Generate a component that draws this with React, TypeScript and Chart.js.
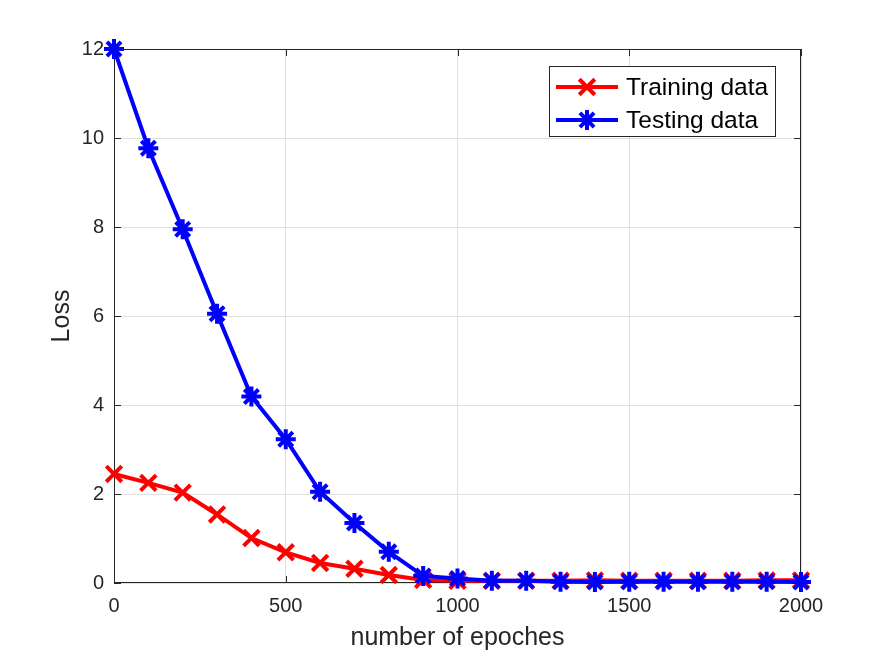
import React, { useEffect, useRef } from 'react';
import { Chart, registerables } from 'chart.js';

Chart.register(...registerables);

const epochs = [0, 100, 200, 300, 400, 500, 600, 700, 800, 900, 1000, 1100, 1200, 1300, 1400, 1500, 1600, 1700, 1800, 1900, 2000];
const trainingLoss = [2.45, 2.25, 2.03, 1.54, 1.01, 0.69, 0.45, 0.32, 0.18, 0.07, 0.05, 0.05, 0.05, 0.05, 0.06, 0.05, 0.05, 0.05, 0.05, 0.06, 0.06];
const testingLoss = [12.0, 9.77, 7.95, 6.05, 4.19, 3.23, 2.05, 1.35, 0.7, 0.16, 0.1, 0.05, 0.05, 0.03, 0.02, 0.03, 0.03, 0.03, 0.03, 0.03, 0.02];
const seriesLabels = ['Training data', 'Testing data'];
const xTicks = [0, 500, 1000, 1500, 2000];
const yTicks = [0, 2, 4, 6, 8, 10, 12];
const xTitle = 'number of epoches';
const yTitle = 'Loss';

const FONT = '"Liberation Sans", Arial, Helvetica, sans-serif';
const AXIS_COLOR = '#262626';

function drawMarker(ctx: CanvasRenderingContext2D, style: string, x: number, y: number, r: number) {
  ctx.beginPath();
  if (style === 'crossRot' || style === 'star') {
    const d = r * Math.SQRT1_2;
    ctx.moveTo(x - d, y - d); ctx.lineTo(x + d, y + d);
    ctx.moveTo(x - d, y + d); ctx.lineTo(x + d, y - d);
  }
  if (style === 'star') {
    ctx.moveTo(x - r, y); ctx.lineTo(x + r, y);
    ctx.moveTo(x, y - r); ctx.lineTo(x, y + r);
  }
  ctx.stroke();
}

const framePlugin = {
  id: 'matlabFrame',
  beforeDatasetsDraw(chart: any) {
    const { ctx, chartArea: a, scales } = chart;
    ctx.save();
    ctx.strokeStyle = AXIS_COLOR;
    ctx.lineWidth = 1;
    ctx.strokeRect(a.left + 0.5, a.top + 0.5, a.right - a.left - 1, a.bottom - a.top - 1);
    const tl = 7;
    ctx.beginPath();
    xTicks.forEach((v) => {
      const px = Math.round(scales.x.getPixelForValue(v)) + 0.5;
      ctx.moveTo(px, a.bottom); ctx.lineTo(px, a.bottom - tl);
      ctx.moveTo(px, a.top); ctx.lineTo(px, a.top + tl);
    });
    yTicks.forEach((v) => {
      const py = Math.round(scales.y.getPixelForValue(v)) + 0.5;
      ctx.moveTo(a.left, py); ctx.lineTo(a.left + tl, py);
      ctx.moveTo(a.right, py); ctx.lineTo(a.right - tl, py);
    });
    ctx.stroke();
    ctx.restore();
  },
  afterDraw(chart: any) {
    const { ctx } = chart;
    const box = { x: 549, y: 66, w: 227, h: 71 };
    ctx.save();
    ctx.fillStyle = '#ffffff';
    ctx.fillRect(box.x, box.y, box.w, box.h);
    ctx.strokeStyle = AXIS_COLOR;
    ctx.lineWidth = 1;
    ctx.strokeRect(box.x + 0.5, box.y + 0.5, box.w - 1, box.h - 1);
    const rows = [87, 120];
    chart.data.datasets.forEach((ds: any, i: number) => {
      const y = rows[i];
      ctx.strokeStyle = ds.borderColor;
      ctx.lineWidth = ds.borderWidth;
      ctx.beginPath();
      ctx.moveTo(556, y); ctx.lineTo(618, y);
      ctx.stroke();
      ctx.lineWidth = ds.pointBorderWidth;
      drawMarker(ctx, ds.pointStyle, 587, y, ds.pointRadius);
      ctx.fillStyle = '#000000';
      ctx.font = `24.5px ${FONT}`;
      ctx.textBaseline = 'middle';
      ctx.textAlign = 'left';
      ctx.fillText(ds.label, 626, y + 1);
    });
    ctx.restore();
  },
};

export default function App() {
  const ref = useRef<HTMLCanvasElement | null>(null);

  useEffect(() => {
    document.body.style.margin = '0';
    const canvas = ref.current;
    if (!canvas) return;
    const chart = new Chart(canvas, {
      type: 'line',
      data: {
        datasets: [
          {
            label: seriesLabels[0],
            data: epochs.map((x, i) => ({ x, y: trainingLoss[i] })),
            borderColor: '#ff0000',
            backgroundColor: '#ff0000',
            borderWidth: 4,
            pointStyle: 'crossRot',
            pointRadius: 11,
            pointBorderWidth: 4,
            pointBorderColor: '#ff0000',
            pointHoverRadius: 11,
            clip: false as any,
            order: 2,
          } as any,
          {
            label: seriesLabels[1],
            data: epochs.map((x, i) => ({ x, y: testingLoss[i] })),
            borderColor: '#0000ff',
            backgroundColor: '#0000ff',
            borderWidth: 4,
            pointStyle: 'star',
            pointRadius: 10,
            pointBorderWidth: 4,
            pointBorderColor: '#0000ff',
            pointHoverRadius: 10,
            clip: false as any,
            order: 1,
          } as any,
        ],
      },
      options: {
        animation: false,
        responsive: false,
        devicePixelRatio: 1,
        layout: { padding: { top: 49, right: 74, left: 0, bottom: 0 } },
        plugins: { legend: { display: false }, tooltip: { enabled: false } },
        scales: {
          x: {
            type: 'linear',
            min: 0,
            max: 2000,
            afterBuildTicks: (s: any) => { s.ticks = xTicks.map((v) => ({ value: v })); },
            afterFit: (s: any) => { s.height = 73; },
            grid: { color: '#dfdfdf', lineWidth: 1, tickLength: 0, drawTicks: false },
            border: { display: false },
            ticks: { color: AXIS_COLOR, font: { family: FONT, size: 20 }, padding: 11, maxRotation: 0, callback: (v: any) => String(v) },
            title: { display: true, text: xTitle, color: AXIS_COLOR, font: { family: FONT, size: 25 }, padding: { top: 0, bottom: 3 } },
          },
          y: {
            type: 'linear',
            min: 0,
            max: 12,
            afterBuildTicks: (s: any) => { s.ticks = yTicks.map((v) => ({ value: v })); },
            afterFit: (s: any) => { s.width = 114; },
            grid: { color: '#dfdfdf', lineWidth: 1, tickLength: 0, drawTicks: false },
            border: { display: false },
            ticks: { color: AXIS_COLOR, font: { family: FONT, size: 20 }, padding: 10, callback: (v: any) => String(v) },
            title: { display: true, text: yTitle, color: AXIS_COLOR, font: { family: FONT, size: 25 }, padding: { top: 47, bottom: 0 } },
          },
        },
      } as any,
      plugins: [framePlugin],
    });
    return () => chart.destroy();
  }, []);

  return (
    <div style={{ width: 875, height: 656, background: '#ffffff' }}>
      <canvas ref={ref} width={875} height={656} style={{ display: 'block', width: 875, height: 656 }} />
    </div>
  );
}
